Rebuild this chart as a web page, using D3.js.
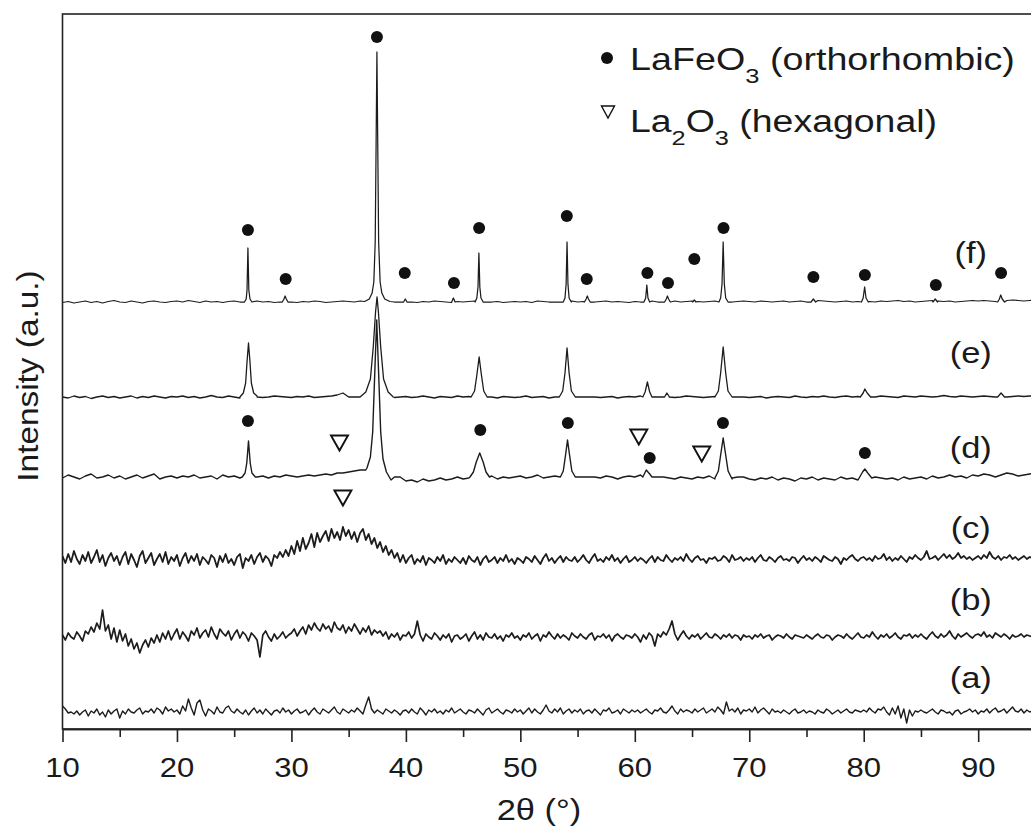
<!DOCTYPE html>
<html><head><meta charset="utf-8">
<script src="https://cdn.jsdelivr.net/npm/d3@7"></script>
<style>
body{margin:0;background:#fff}
svg{display:block}
text{font-family:"Liberation Sans",Arial,Helvetica,sans-serif;fill:#1a1a1a}
</style>
</head><body>
<svg id="chart" width="1031" height="830"></svg>
<script>
// ---------------- DATA ----------------
const seriesNames = ["(a)", "(b)", "(c)", "(d)", "(e)", "(f)"];
// vertical stacking offset of each pattern (a.u.)
const offsets = [17, 92, 169, 252, 332, 427];
const labelY = [51, 129, 201, 281, 376, 476];
const labelX = 89.35;
const xMajorTicks = [10, 20, 30, 40, 50, 60, 70, 80, 90];
const xMinorTicks = [15, 25, 35, 45, 55, 65, 75, 85, 95];

// background intensity (relative) sampled every 0.25 deg from 10 deg
const bgA = [
6,3,-1,0,-2,1,-3,0,2,-4,1,-1,3,-3,0,-5,2,-2,1,3,
-6,1,-2,3,0,-1,2,4,-2,1,0,3,-1,4,2,-2,5,1,3,0,
2,-2,6,1,13,4,-3,9,12,2,-4,3,1,-2,5,0,-1,4,6,1,
-1,3,0,-2,2,-3,1,4,-1,2,-2,3,0,-3,1,2,-1,4,0,2,
-2,1,3,-1,0,2,-3,1,4,0,-2,3,1,-1,2,5,0,-2,3,1,
-1,2,0,4,1,-2,7,15,3,-1,2,0,-2,3,1,-1,2,0,-3,1,
2,-1,3,0,-2,4,1,-3,2,0,3,-1,1,-2,2,0,4,-1,1,3,
0,-2,2,1,-1,3,0,-3,2,4,-1,1,3,0,-2,2,1,-1,3,0,
2,-2,1,4,-1,3,0,-2,2,7,1,-1,3,0,4,-2,1,3,-1,2,
0,3,-2,1,2,-1,3,0,-3,2,1,4,-1,0,2,-2,3,1,-1,2,
0,2,-1,1,3,0,-2,2,1,4,0,-1,2,6,1,-2,3,0,2,1,
-1,3,0,2,4,-1,1,3,0,5,2,-2,10,1,3,0,4,-2,2,1,
3,0,5,-1,2,4,1,-2,3,0,1,-1,2,0,-2,1,3,-1,0,2,
-1,1,0,-2,2,0,-1,3,1,-2,0,2,-1,1,3,0,-1,2,1,0,
2,0,4,1,-1,3,2,5,0,-3,4,-2,6,-6,3,-11,2,-4,1,0,
2,0,-1,1,3,0,-2,2,1,-1,0,-3,1,2,-2,0,1,3,0,2,
-2,1,0,3,-1,2,4,0,1,3,-1,2,5,1,0,3,-1,2,0,1,
1];
const bgB = [
2,-3,4,0,-2,5,1,-4,6,3,10,5,14,8,27,6,12,-2,9,-5,
7,-4,3,-9,-2,-12,-6,-16,-8,-3,-10,-1,-6,2,-5,4,-2,6,-3,3,
8,-2,5,1,-4,6,2,9,-1,4,7,0,10,3,-2,8,4,1,6,-3,
3,7,-1,5,2,-4,4,1,-3,-20,2,6,0,-4,3,-2,1,5,-1,2,
4,8,1,6,10,3,12,7,14,9,6,13,8,11,5,15,9,7,12,4,
10,6,13,8,3,9,5,11,2,7,4,6,1,5,-2,3,0,4,-3,2,
1,5,-1,3,16,2,-4,3,0,-2,4,1,-3,2,-1,3,-5,1,2,-2,
0,3,-4,1,5,-2,2,-3,4,0,-1,3,-2,1,-4,2,0,4,-1,1,
-3,2,0,4,-2,1,3,-4,2,0,5,1,-2,3,-1,2,0,-3,4,1,
-1,3,0,-2,2,4,-3,1,0,3,-1,2,-4,1,3,0,-2,2,1,-1,
3,0,-5,2,-2,4,1,-9,3,0,5,2,8,16,3,-3,2,6,1,-2,
2,0,3,-2,1,4,0,-1,3,1,-2,2,0,3,-1,2,1,-3,2,0,
1,-2,2,0,3,-1,1,2,-3,0,2,1,-1,3,0,-2,2,1,0,-1,
2,0,-2,1,3,0,-1,2,1,-3,0,2,1,-1,3,0,-2,1,4,0,
-1,2,0,5,1,-2,2,0,3,-1,1,4,0,-2,2,1,3,-1,2,0,
3,0,-2,2,5,1,-1,3,0,2,6,1,-2,3,0,2,4,1,-1,2,
3,1,5,0,2,-1,4,2,0,3,1,-2,2,0,1,3,0,2,1,0,
1];
const bgC = [
4,-3,6,-2,9,1,-4,5,-1,8,-3,3,10,-2,5,-6,2,7,-1,4,
-5,3,8,-4,6,0,-7,4,9,-3,2,7,-5,1,6,-2,8,-4,3,-1,
5,-6,2,7,-3,4,-1,6,-5,3,0,-4,5,2,-7,4,-2,6,-3,1,
-5,3,6,-8,2,-1,5,-4,3,7,-2,4,1,-6,5,2,8,3,10,4,
14,6,19,9,22,11,17,26,13,27,18,24,29,19,31,22,28,20,33,24,
30,21,28,18,27,31,20,26,16,22,12,18,8,14,5,10,2,7,-2,5,
-3,2,5,-4,1,-2,4,-5,2,0,-3,3,-1,5,-4,1,-2,3,0,-3,
2,-4,4,0,-2,3,-5,1,4,-2,0,3,-3,2,-1,5,-2,1,-4,2,
0,-3,3,1,-2,4,0,-4,2,6,-1,2,-3,1,4,-2,3,0,-1,3,
-2,1,5,0,-3,2,6,-1,1,-2,3,0,5,-1,2,-3,1,4,-2,0,
3,-1,2,0,-3,1,4,-2,3,0,-1,5,1,-2,2,0,3,-1,6,1,
-2,2,4,0,1,-3,2,1,3,-1,0,4,2,-2,5,0,1,3,-1,2,
0,3,-2,2,5,0,-1,3,1,-2,2,4,0,1,-1,3,2,-3,1,4,
0,2,-1,3,1,-2,4,2,0,-1,3,1,-4,2,0,3,5,1,-1,2,
3,0,2,-1,4,1,2,6,0,3,-1,2,0,4,1,-2,3,1,5,2,
0,3,9,1,2,4,0,3,6,2,5,1,3,7,2,4,1,3,0,2,
4,1,5,2,8,3,1,4,0,3,2,5,1,3,0,2,4,1,3,2,
2];
// background intensity (relative) sampled every 0.5 deg from 10 deg
const bgD = [
-1,2,0,-2,1,3,-1,0,2,-1,1,-2,0,2,-1,1,3,-2,0,1,
-1,1,0,2,-1,0,1,-2,2,0,1,-1,0,2,0,1,-1,1,0,2,
1,0,1,2,1,2,3,2,4,4,5,6,7,7,8,9,9,0,0,0,
-4,-3,-5,-2,-4,-3,-1,-3,-2,0,-2,-1,-3,0,-1,1,-2,0,-1,0,
1,-1,0,2,-1,0,1,0,-1,0,0,0,0,0,-1,1,0,-2,0,1,
0,2,0,0,0,0,-1,-2,0,-1,-2,0,-1,1,-2,-1,0,-2,0,0,
-2,-3,-1,-2,0,-3,-1,-2,-4,-1,-2,0,-3,-1,-2,-3,0,-2,-1,-3,
0,0,0,-1,-2,-1,-3,0,-2,-1,0,-2,1,-1,0,2,0,1,-1,2,
1,3,2,0,2,4,3,1,2,3,4];
const bgE = [
0,-1,1,-0.5,0.5,-1.5,0,1,-0.5,0.5,-1,0,1,-1,0.5,-0.5,1,0,-1,0.5,
0,1,-0.5,0.5,-1,0,1.5,0,-0.5,1,0,-1,0.5,0,1,-0.5,0,1,0.5,0,
-0.5,0.5,0,1,-0.5,0,0.5,1,2,4,0,0,0,0,0,-1,0,-1.5,-0.5,0,
0.5,-0.5,0,1,0,-1,0.5,0,-0.5,1,0,0.5,0,0,0,0,-1,0.5,0,-0.5,
0,1,-0.5,0,0.5,-1,0,0.5,1,0,0,0,0,0,-0.5,0,0.5,-1,0,0.5,
0,1,0,0,0,0,0.5,-0.5,0,1,0.5,0,-0.5,0,0.5,0,0,0,0,0,
-0.5,0,0.5,-1,0,0.5,0,-0.5,1,0,-0.5,0.5,0,1,0,-0.5,0.5,1,0,0.5,
0,0,0,1,0.5,0,-0.5,1,0.5,0,1,0.5,0,0.5,1.5,0.5,0,1,0.5,0,
0.5,1,0.5,0,0,0,0.5,1,0.5,1,1];
const bgF = [
-0.5,0.5,-1,0,1,-0.5,0.5,-1,0.5,1.5,0,-0.5,1,0,-1,0.5,1,0,-0.5,0.5,
1,0,1.5,0.5,-0.5,1,0,0.5,-0.5,0.5,1,0,-0.5,0.5,1,0,0.5,-0.5,0,0.5,
0,-0.5,0.5,0,1,0.5,-0.5,0,0.5,1,0.5,0,1,2,4,0,0,0,0,0,
0.5,0,-0.5,0.5,0,1,0.5,0,-0.5,0.5,0,0.5,1,0,0,0,0.5,-0.5,0,0.5,
0,0.5,-0.5,1,0.5,0,0,0,0.5,1,0,0.5,-0.5,0,0.5,1,0,0.5,0,-0.5,
0.5,0,0.5,1,0,0,0.5,1,0,0.5,1,0.5,0,0.5,1,0,0,0,0.5,1,
0.5,0,1,0.5,0,0.5,1,0,0.5,1,0,0.5,1.5,1,0.5,0,0.5,1,0,0.5,
1,0.5,0,1,0.5,1,1.5,0.5,1,0,0.5,1,1.5,1,0.5,1,0,0.5,1,1.5,
1,1.5,1,0.5,1,1.5,2,1.5,1,1.5,2];
const bgSteps = [0.25, 0.25, 0.25, 0.5, 0.5, 0.5];

// diffraction peaks: explicit [2theta, relative intensity] points
const peaksA = [], peaksB = [], peaksC = [];
const peaksD = [
 [[25.7,0],[25.95,4],[26.1,14],[26.25,36],[26.4,14],[26.55,4],[26.85,0]],
 [[36.6,9],[36.9,20],[37.1,45],[37.3,110],[37.45,157],[37.6,110],[37.8,45],[38.0,18],[38.3,5],[38.7,-3]],
 [[45.6,0],[45.9,5],[46.15,15],[46.45,24],[46.75,15],[47.0,5],[47.3,0]],
 [[53.5,0],[53.75,6],[53.95,22],[54.12,37],[54.3,22],[54.5,6],[54.8,0]],
 [[60.7,0],[61.0,7],[61.3,3],[61.5,0]],
 [[67.0,-1],[67.3,6],[67.5,22],[67.72,39],[67.94,22],[68.15,6],[68.5,-1]],
 [[79.6,-1],[79.9,5],[80.1,8],[80.35,4],[80.7,-1]]
];
const peaksE = [
 [[25.5,0],[25.8,4],[26.0,14],[26.12,35],[26.25,54],[26.38,35],[26.5,14],[26.7,4],[27.0,0]],
 [[36.0,0],[36.5,5],[36.9,18],[37.15,50],[37.35,85],[37.48,100],[37.6,85],[37.8,50],[38.05,18],[38.45,5],[38.9,0]],
 [[45.7,0],[46.0,6],[46.2,22],[46.4,40],[46.6,22],[46.8,6],[47.1,0]],
 [[53.4,0],[53.7,6],[53.9,24],[54.08,49],[54.26,24],[54.46,6],[54.8,0]],
 [[60.7,0],[60.9,5],[61.1,15],[61.3,5],[61.5,0]],
 [[62.6,0],[62.8,4],[63.0,0]],
 [[67.0,0],[67.3,6],[67.5,24],[67.72,50],[67.94,24],[68.14,6],[68.5,0]],
 [[79.7,0],[79.95,4],[80.1,8],[80.3,4],[80.6,0]],
 [[91.7,0],[92.0,4],[92.3,0]]
];
const peaksF = [
 [[25.9,0],[26.05,3],[26.12,12],[26.2,54],[26.28,12],[26.38,3],[26.55,0]],
 [[29.2,0],[29.35,3],[29.45,6],[29.55,3],[29.7,0]],
 [[36.4,0.5],[36.8,3],[37.05,9],[37.2,20],[37.32,60],[37.4,160],[37.47,250],[37.54,160],[37.62,60],[37.75,20],[37.9,9],[38.15,3],[38.6,0.5]],
 [[39.8,0],[39.95,3],[40.1,0]],
 [[44.0,0],[44.15,4],[44.3,0]],
 [[46.05,0],[46.2,4],[46.3,15],[46.38,49],[46.46,15],[46.56,4],[46.75,0]],
 [[53.75,0],[53.9,4],[54.0,18],[54.08,60],[54.16,18],[54.26,4],[54.45,0]],
 [[55.6,0],[55.75,3],[55.85,6],[55.95,3],[56.1,0]],
 [[60.8,0],[60.95,4],[61.05,17],[61.15,4],[61.3,0]],
 [[62.6,0],[62.75,3],[62.85,6],[62.95,3],[63.1,0]],
 [[65.05,0],[65.2,2],[65.35,0]],
 [[67.35,0],[67.5,4],[67.62,18],[67.72,60],[67.82,18],[67.94,4],[68.15,0]],
 [[75.4,0],[75.6,3],[75.8,0]],
 [[79.8,0],[79.95,4],[80.08,15],[80.2,4],[80.4,0]],
 [[86.05,0],[86.25,3],[86.45,0]],
 [[91.7,0],[91.85,3],[91.97,7],[92.1,3],[92.3,0]]
];

// phase markers [2theta, intensity]
const dotsLaFeO3 = [
 [26.2,499],[29.5,450],[37.47,692],[39.9,456],[44.2,446],[46.4,501],[54.06,513],[55.8,450],
 [61.1,456],[62.9,446],[65.2,470],[67.75,501],[75.6,452],[80.1,454],[86.3,444],[92.0,456],
 [26.2,308],[46.5,299],[54.15,306],[61.3,271],[67.7,306],[80.1,276]
];
const trianglesLa2O3 = [[34.2,286],[60.35,292],[65.85,275],[34.5,231]];

const legendItems = [
 {marker:"dot", parts:[["LaFeO",0],["3",1],[" (orthorhombic)",0]]},
 {marker:"tri", parts:[["La",0],["2",1],["O",0],["3",1],[" (hexagonal)",0]]}
];
const axisTitleX = "2θ (°)";
const axisTitleY = "Intensity (a.u.)";

// ---------------- CHART ----------------
const svg = d3.select("#chart");
const L = 62.5, T = 14, R = 1040, B = 729;
const x = d3.scaleLinear().domain([10, 95.4]).range([L, R]);
const y = d3.scaleLinear().domain([0, 715]).range([B, T]);
const ink = "#1c1c1c";
const SX = 1.15; // horizontal stretch of the typography in the reference
const strokeW = [1.4, 1.7, 1.8, 1.4, 1.3, 1.25];

const bgs = [bgA, bgB, bgC, bgD, bgE, bgF];
const peakSets = [peaksA, peaksB, peaksC, peaksD, peaksE, peaksF];

function buildSeries(k) {
  const step = bgSteps[k];
  const peaks = peakSets[k];
  let pts = bgs[k].map((v, i) => [10 + i * step, v]);
  pts = pts.filter(p => !peaks.some(pk => p[0] > pk[0][0] && p[0] < pk[pk.length - 1][0]));
  peaks.forEach(pk => pk.forEach(p => pts.push(p)));
  pts.sort((a, b) => a[0] - b[0]);
  return pts.map(p => [p[0], p[1] + offsets[k]]);
}

svg.append("clipPath").attr("id", "clip").append("rect")
  .attr("x", L).attr("y", T).attr("width", R - L).attr("height", B - T);

const line = d3.line().x(d => x(d[0])).y(d => y(d[1]));
const gLines = svg.append("g").attr("clip-path", "url(#clip)");
seriesNames.forEach((name, k) => {
  gLines.append("path").datum(buildSeries(k))
    .attr("d", line).attr("fill", "none").attr("stroke", ink)
    .attr("stroke-width", strokeW[k]).attr("stroke-linejoin", "round");
});

// frame
svg.append("rect").attr("x", L).attr("y", T).attr("width", R - L).attr("height", B - T)
  .attr("fill", "none").attr("stroke", "#222").attr("stroke-width", 1.6);

// x axis
const gx = svg.append("g").attr("transform", `translate(0,${B})`);
gx.call(d3.axisBottom(x).tickValues(xMajorTicks).tickSize(13).tickSizeOuter(0).tickFormat(""));
gx.append("g").call(d3.axisBottom(x).tickValues(xMinorTicks).tickSize(8).tickSizeOuter(0).tickFormat(""));
gx.selectAll("path.domain").attr("stroke", "#222").attr("stroke-width", 1.6);
gx.selectAll(".tick line").attr("stroke", "#222").attr("stroke-width", 1.6);

xMajorTicks.forEach(v => {
  svg.append("text").attr("transform", `translate(${x(v)},777) scale(${SX},1)`)
    .attr("text-anchor", "middle").attr("font-size", 27).text(v);
});

svg.append("text").attr("transform", `translate(539,820) scale(${SX},1)`)
  .attr("text-anchor", "middle").attr("font-size", 30).text(axisTitleX);

svg.append("text").attr("transform", `translate(28,376) rotate(-90) scale(${SX},1)`)
  .attr("text-anchor", "middle").attr("dominant-baseline", "central")
  .attr("font-size", 29).text(axisTitleY);

// series labels
seriesNames.forEach((name, k) => {
  svg.append("text").attr("transform", `translate(${x(labelX)},${y(labelY[k])}) scale(${SX},1)`)
    .attr("text-anchor", "middle").attr("dominant-baseline", "central")
    .attr("font-size", 30).text(name);
});

// markers
svg.append("g").selectAll("circle").data(dotsLaFeO3).join("circle")
  .attr("cx", d => x(d[0])).attr("cy", d => y(d[1])).attr("r", 6).attr("fill", "#111");

function triPath(cx, cy, w, h) {
  return `M${cx - w / 2},${cy - h / 2}L${cx + w / 2},${cy - h / 2}L${cx},${cy + h / 2}Z`;
}
svg.append("g").selectAll("path").data(trianglesLa2O3).join("path")
  .attr("d", d => triPath(x(d[0]), y(d[1]), 17, 15))
  .attr("fill", "none").attr("stroke", "#111").attr("stroke-width", 1.9).attr("stroke-linejoin", "miter");

// legend
const legendRows = [{mx: 607, my: 58, tx: 630, ty: 70, w: 385}, {mx: 608, my: 112, tx: 630, ty: 132, w: 307}];
legendItems.forEach((it, i) => {
  const r = legendRows[i];
  if (it.marker === "dot") {
    svg.append("circle").attr("cx", r.mx).attr("cy", r.my).attr("r", 6).attr("fill", "#111");
  } else {
    svg.append("path").attr("d", triPath(r.mx, r.my, 13, 12)).attr("fill", "none")
      .attr("stroke", "#111").attr("stroke-width", 1.4);
  }
  const t = svg.append("text").attr("font-size", 31);
  let sub = false;
  it.parts.forEach(([s, isSub]) => {
    const ts = t.append("tspan").text(s);
    if (isSub && !sub) { ts.attr("dy", 13).attr("font-size", 21); sub = true; }
    else if (isSub) { ts.attr("font-size", 21); }
    else if (sub) { ts.attr("dy", -13); sub = false; }
  });
  const bw = t.node().getBBox().width;
  t.attr("transform", `translate(${r.tx},${r.ty}) scale(${r.w / bw},1)`);
});
</script>
</body></html>
